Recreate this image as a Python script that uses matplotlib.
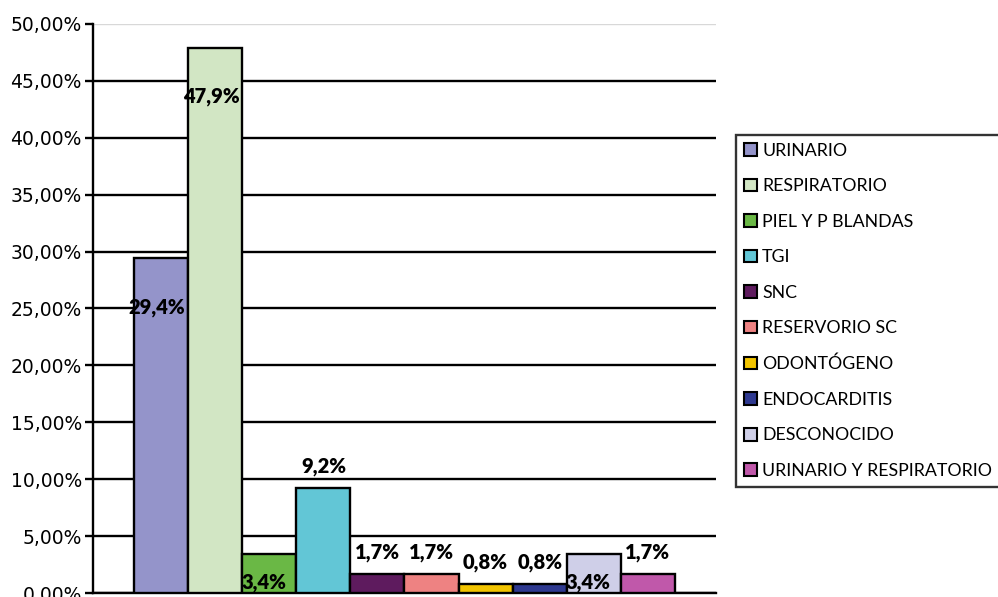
import numpy as np
import matplotlib.pyplot as plt
from matplotlib.patches import Patch

categories = ["URINARIO", "RESPIRATORIO", "PIEL Y P BLANDAS", "TGI", "SNC",
              "RESERVORIO SC", "ODONTÓGENO", "ENDOCARDITIS", "DESCONOCIDO",
              "URINARIO Y RESPIRATORIO"]
values = [29.4, 47.9, 3.4, 9.2, 1.7, 1.7, 0.8, 0.8, 3.4, 1.7]
colors = ["#9494CA", "#D2E6C4", "#6AB845", "#62C6D6", "#5E1B5E",
          "#EE8282", "#F2C400", "#2E3990", "#CFCFE8", "#C058AA"]
y_ticks = [0, 5, 10, 15, 20, 25, 30, 35, 40, 45, 50]

fig = plt.figure(figsize=(9.98, 5.97), dpi=100)
ax = fig.add_axes([0.0932, 0.0067, 0.6242, 0.9531])

x = np.arange(len(values))
ax.bar(x, values, width=1.0, color=colors, edgecolor="black", linewidth=1.7, zorder=3)

ax.set_xlim(-1.26, len(values) - 1 + 1.26)
ax.set_ylim(0, 50)
ax.set_yticks(y_ticks)
ax.set_yticklabels([f"{t:.2f}%".replace(".", ",") for t in y_ticks],
                   fontsize=13.5, family="DejaVu Sans")
ax.set_xticks([])
ax.tick_params(axis="y", direction="out", length=6, width=1.7, color="black", pad=2)

ax.yaxis.grid(True, color="black", linewidth=1.7, zorder=0)
ax.get_ygridlines()[-1].set_color("#D8D8D8")
ax.get_ygridlines()[-1].set_linewidth(1.0)
ax.set_axisbelow(True)

for side in ["top", "right"]:
    ax.spines[side].set_visible(False)
ax.spines["left"].set_linewidth(1.7)
ax.spines["bottom"].set_linewidth(1.7)

# data labels placed like the original Excel chart
for i, v in enumerate(values):
    txt = f"{v:.1f}%".replace(".", ",")
    if v > 20:
        ypos = v - 4.3
        xpos = i - 0.08
    elif v == 3.4:
        ypos = 0.9
        xpos = i - 0.1
    else:
        ypos = v + 1.9
        xpos = i
    ax.text(xpos, ypos, txt, ha="center", va="center", fontsize=14.5,
            fontweight="heavy", family="Lato", zorder=5, clip_on=False)

handles = [Patch(facecolor=c, edgecolor="black", linewidth=1.5) for c in colors]
leg = fig.legend(handles, categories, loc="lower left",
                 bbox_to_anchor=(736 / 998, 110 / 597),
                 prop={"family": "Lato", "size": 12.8},
                 frameon=True, fancybox=False, edgecolor="black",
                 handlelength=0.72, handleheight=0.72, handletextpad=0.3,
                 labelspacing=1.1, borderpad=0.45, borderaxespad=0)
leg.get_frame().set_linewidth(1.7)

fig.savefig("out.png", dpi=100)
